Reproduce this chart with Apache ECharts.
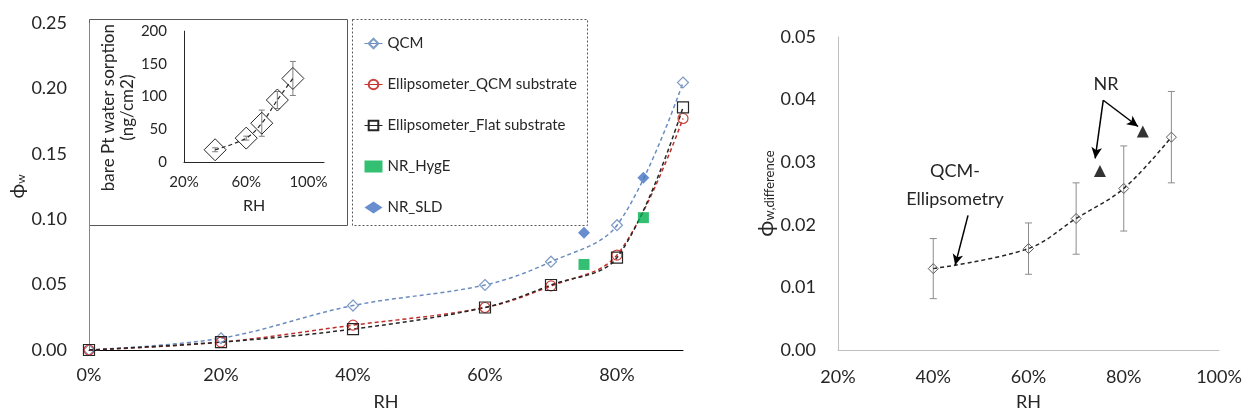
<!DOCTYPE html>
<html>
<head>
<meta charset="utf-8">
<script src="https://cdn.jsdelivr.net/npm/echarts@6/dist/echarts.min.js"></script>
<style>
html,body{margin:0;padding:0;background:#fff;}
#c{width:1247px;height:416px;}
</style>
</head>
<body>
<div id="c"></div>
<script>
// ---- Main chart data ----
const mainRH = [0, 20, 40, 60, 70, 80, 90];
const qcm = [0, 0.009, 0.034, 0.0497, 0.0675, 0.0954, 0.2045];
const ellipQcm = [0, 0.006, 0.019, 0.0325, 0.049, 0.0726, 0.177];
const ellipFlat = [0, 0.006, 0.016, 0.0325, 0.0497, 0.0706, 0.1855];
const nrRH = [75, 84];
const nrHygE = [0.0654, 0.1012];
const nrSLD = [0.0896, 0.1316];
const mainYTicks = [0, 0.05, 0.10, 0.15, 0.20, 0.25];
const mainXTicks = [0, 20, 40, 60, 80];

// ---- Inset data ----
const insetRH = [40, 60, 70, 80, 90];
const insetMass = [18.7, 36.5, 59.3, 94.7, 127.7];
const insetErr = [3, 3, 20, 13, 26];

// ---- Right chart data ----
const diffRH = [40, 60, 70, 80, 90];
const diffVal = [0.0130, 0.0162, 0.0210, 0.0258, 0.0340];
const diffErr = [0.0048, 0.0041, 0.0057, 0.0068, 0.0073];
const triRH = [75, 84];
const triVal = [0.0286, 0.0349];

const FONT = 'Lato';
const TXT = '#262626';

function pairs(xs, ys){ return xs.map((x,i)=>[x, ys[i]]); }

function errBars(xi, yi, xs, ys, es, color, cap){
  return {
    type: 'custom', xAxisIndex: xi, yAxisIndex: yi, silent: true, z: 1,
    data: xs.map((x,i)=>[x, ys[i], es[i]]),
    encode: {x: 0, y: 1},
    renderItem: function(params, api){
      const x = api.value(0), y = api.value(1), e = api.value(2);
      const t = api.coord([x, y + e]);
      const b = api.coord([x, y - e]);
      const st = {stroke: color, lineWidth: 1};
      return {type: 'group', children: [
        {type: 'line', shape: {x1: t[0], y1: t[1], x2: b[0], y2: b[1]}, style: st},
        {type: 'line', shape: {x1: t[0]-cap, y1: t[1], x2: t[0]+cap, y2: t[1]}, style: st},
        {type: 'line', shape: {x1: b[0]-cap, y1: b[1], x2: b[0]+cap, y2: b[1]}, style: st}
      ]};
    }
  };
}

const chart = echarts.init(document.getElementById('c'), null, {renderer: 'canvas'});

const option = {
  backgroundColor: '#fff',
  animation: false,
  textStyle: {fontFamily: FONT, color: TXT},
  grid: [
    {left: 89, top: 23, width: 594, height: 329},
    {left: 184, top: 31, width: 140, height: 131},
    {left: 838, top: 37, width: 381, height: 313}
  ],
  xAxis: [
    {gridIndex: 0, type: 'value', min: 0, max: 90, interval: 20,
     axisLine: {show: true, lineStyle: {color: '#000', width: 1}},
     axisTick: {show: false}, splitLine: {show: false},
     axisLabel: {fontSize: 18, color: TXT, margin: 16, fontFamily: FONT, showMaxLabel: false,
       formatter: v => mainXTicks.includes(v) ? v + '%' : ''},
     name: 'RH', nameLocation: 'middle', nameGap: 43,
     nameTextStyle: {fontSize: 18, color: TXT, fontFamily: FONT}},
    {gridIndex: 1, type: 'value', min: 20, max: 110, interval: 40,
     axisLine: {show: true, lineStyle: {color: '#262626', width: 1}},
     axisTick: {show: false}, splitLine: {show: false},
     axisLabel: {fontSize: 15, color: TXT, margin: 13, fontFamily: FONT, showMaxLabel: false,
       formatter: v => v + '%'},
     name: 'RH', nameLocation: 'middle', nameGap: 36,
     nameTextStyle: {fontSize: 16, color: TXT, fontFamily: FONT}},
    {gridIndex: 2, type: 'value', min: 20, max: 100, interval: 20,
     axisLine: {show: true, lineStyle: {color: '#bfbfbf', width: 1}},
     axisTick: {show: false}, splitLine: {show: false},
     axisLabel: {fontSize: 18, color: TXT, margin: 18, fontFamily: FONT,
       formatter: v => v + '%'},
     name: 'RH', nameLocation: 'middle', nameGap: 43,
     nameTextStyle: {fontSize: 18, color: TXT, fontFamily: FONT}}
  ],
  yAxis: [
    {gridIndex: 0, type: 'value', min: 0, max: 0.25, interval: 0.05,
     axisLine: {show: true, lineStyle: {color: '#868686', width: 1}},
     axisTick: {show: false}, splitLine: {show: false},
     axisLabel: {fontSize: 18, color: TXT, margin: 22, fontFamily: FONT,
       formatter: v => v.toFixed(2)},
     name: '{a|ϕ}{b|w}', nameLocation: 'middle', nameGap: 60, nameRotate: 90,
     nameTextStyle: {rich: {
       a: {fontSize: 20, color: TXT, fontFamily: FONT, lineHeight: 24, verticalAlign: 'bottom'},
       b: {fontSize: 12, color: TXT, fontFamily: FONT, lineHeight: 24, verticalAlign: 'bottom'}}}},
    {gridIndex: 1, type: 'value', min: 0, max: 200, interval: 50,
     axisLine: {show: true, lineStyle: {color: '#262626', width: 1}},
     axisTick: {show: false}, splitLine: {show: false},
     axisLabel: {fontSize: 15, color: TXT, margin: 17, fontFamily: FONT},
     name: 'bare Pt water sorption\n(ng/cm2)', nameLocation: 'middle', nameGap: 43, nameRotate: 90,
     nameTextStyle: {fontSize: 17, color: TXT, fontFamily: FONT, lineHeight: 19, padding: [0, 22, 0, 0]}},
    {gridIndex: 2, type: 'value', min: 0, max: 0.05, interval: 0.01,
     axisLine: {show: true, lineStyle: {color: '#bfbfbf', width: 1}},
     axisTick: {show: false}, splitLine: {show: false},
     axisLabel: {fontSize: 18, color: TXT, margin: 22, fontFamily: FONT,
       formatter: v => v.toFixed(2)},
     name: '{a|ϕ}{b|w,difference}', nameLocation: 'middle', nameGap: 56, nameRotate: 90,
     nameTextStyle: {rich: {
       a: {fontSize: 22, color: TXT, fontFamily: FONT, lineHeight: 26, verticalAlign: 'bottom'},
       b: {fontSize: 13, color: TXT, fontFamily: FONT, lineHeight: 26, verticalAlign: 'bottom'}}}}
  ],
  legend: {
    orient: 'vertical', left: 359, top: 31, itemGap: 26, itemWidth: 18, itemHeight: 12,
    data: ['QCM', 'Ellipsometer_QCM substrate', 'Ellipsometer_Flat substrate', 'NR_HygE', 'NR_SLD'],
    lineStyle: {type: 'solid', width: 1},
    textStyle: {fontSize: 15, color: TXT, fontFamily: FONT}
  },
  graphic: [
    {type: 'rect', shape: {x: 89.5, y: 19.5, width: 258, height: 206}, z: 0,
     style: {fill: 'none', stroke: '#595959', lineWidth: 1}},
    {type: 'rect', shape: {x: 352.5, y: 19.5, width: 235, height: 206}, z: 0,
     style: {fill: 'none', stroke: '#595959', lineWidth: 1, lineDash: [2, 2]}},
    {type: 'text', x: 1106, y: 84, style: {text: 'NR', font: '18px Lato', fill: TXT, align: 'center', verticalAlign: 'middle'}},
    {type: 'text', x: 955, y: 185, style: {text: 'QCM-\nEllipsometry', font: '18px Lato', fill: TXT, align: 'center', verticalAlign: 'middle', lineHeight: 28}}
  ],
  series: [
    {name: 'QCM', type: 'line', xAxisIndex: 0, yAxisIndex: 0, data: pairs(mainRH, qcm),
     smooth: 0.35, symbol: 'diamond', symbolSize: 11, z: 3,
     itemStyle: {color: 'rgba(255,255,255,0)', borderColor: '#7f9cc4', borderWidth: 1.2},
     lineStyle: {color: '#6a8cbf', width: 1.5, type: [4, 3]}},
    {name: 'Ellipsometer_QCM substrate', type: 'line', xAxisIndex: 0, yAxisIndex: 0, data: pairs(mainRH, ellipQcm),
     smooth: 0.35, symbol: 'circle', symbolSize: 10, z: 3,
     itemStyle: {color: 'rgba(255,255,255,0)', borderColor: '#c9413c', borderWidth: 1.2},
     lineStyle: {color: '#c0302b', width: 1.5, type: [4, 3]}},
    {name: 'Ellipsometer_Flat substrate', type: 'line', xAxisIndex: 0, yAxisIndex: 0, data: pairs(mainRH, ellipFlat),
     smooth: 0.35, symbol: 'rect', symbolSize: 11, z: 3,
     itemStyle: {color: 'rgba(255,255,255,0)', borderColor: '#262626', borderWidth: 1.2},
     lineStyle: {color: '#262626', width: 1.5, type: [4, 3]}},
    {name: 'NR_HygE', type: 'scatter', xAxisIndex: 0, yAxisIndex: 0, data: pairs(nrRH, nrHygE),
     symbol: 'rect', symbolSize: 11, z: 4, itemStyle: {color: '#00b050'}},
    {name: 'NR_SLD', type: 'scatter', xAxisIndex: 0, yAxisIndex: 0, data: pairs(nrRH, nrSLD),
     symbol: 'diamond', symbolSize: 12, z: 4, itemStyle: {color: '#4472c4'}},

    errBars(1, 1, insetRH, insetMass, insetErr, '#7f7f7f', 3),
    {name: 'inset', type: 'line', xAxisIndex: 1, yAxisIndex: 1, data: pairs(insetRH, insetMass),
     smooth: 0.35, symbol: 'diamond', symbolSize: 22, z: 3,
     itemStyle: {color: 'rgba(255,255,255,0)', borderColor: '#262626', borderWidth: 1},
     lineStyle: {color: '#262626', width: 1.2, type: [4, 3]}},

    errBars(2, 2, diffRH, diffVal, diffErr, '#8c8c8c', 3.5),
    {name: 'diff', type: 'line', xAxisIndex: 2, yAxisIndex: 2, data: pairs(diffRH, diffVal),
     smooth: 0.35, symbol: 'diamond', symbolSize: 10, z: 3,
     itemStyle: {color: 'rgba(255,255,255,0)', borderColor: '#595959', borderWidth: 1},
     lineStyle: {color: '#262626', width: 1.5, type: [4, 3]},
     markLine: {silent: true, symbol: ['none', 'arrow'], symbolSize: [8, 11], label: {show: false},
       lineStyle: {color: '#000', width: 1.5, type: 'solid'},
       data: [
         [{coord: [75.7, 0.0399]}, {coord: [74.0, 0.0306]}],
         [{coord: [75.7, 0.0399]}, {coord: [83.0, 0.0357]}],
         [{coord: [47.3, 0.0215]}, {coord: [44.6, 0.01356]}]
       ]}},
    {name: 'NR_diff', type: 'scatter', xAxisIndex: 2, yAxisIndex: 2, data: pairs(triRH, triVal),
     symbol: 'triangle', symbolSize: 12, z: 4, itemStyle: {color: '#000'}}
  ]
};
chart.setOption(option);
</script>
</body>
</html>
